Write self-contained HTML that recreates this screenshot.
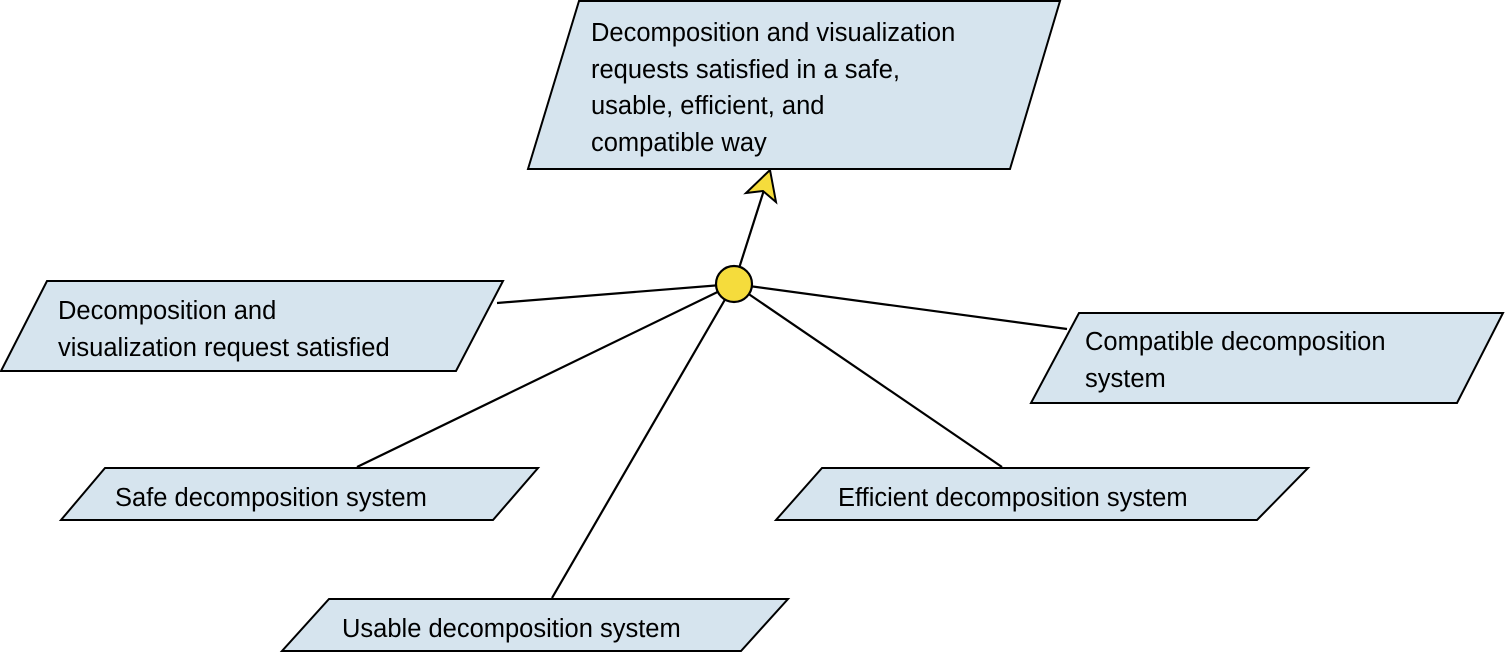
<!DOCTYPE html>
<html><head><style>body{margin:0;background:#fff}svg{display:block}text{font-family:"Liberation Sans",sans-serif;font-size:25.5px;fill:#000}</style></head><body>
<svg width="1505" height="652" viewBox="0 0 1505 652">
<g fill="#d6e4ee" stroke="#000" stroke-width="2">
<polygon points="579,1 1060,1 1010,169 528,169"/>
<polygon points="47,281 503,281 456,371 1,371"/>
<polygon points="1079,313 1503,313 1457,403 1031,403"/>
<polygon points="105,468 538,468 493,520 61,520"/>
<polygon points="822,468 1308,468 1257,520 776,520"/>
<polygon points="329,599 788,599 741,651 282,651"/>
</g>
<g stroke="#000" stroke-width="2.2">
<line x1="734" y1="284" x2="497" y2="303"/>
<line x1="734" y1="284" x2="357" y2="467"/>
<line x1="734" y1="284" x2="552" y2="598"/>
<line x1="734" y1="284" x2="1002" y2="467"/>
<line x1="734" y1="284" x2="1067" y2="329"/>
<line x1="734" y1="284" x2="764" y2="190"/>
</g>
<polygon points="770,170 776,202 763,191 746,193" fill="#f5dc3c" stroke="#000" stroke-width="2"/>
<circle cx="734" cy="284" r="18" fill="#f5dc3c" stroke="#000" stroke-width="2.2"/>
<text x="591" y="41">Decomposition and visualization</text>
<text x="591" y="78">requests satisfied in a safe,</text>
<text x="591" y="114">usable, efficient, and</text>
<text x="591" y="151">compatible way</text>
<text x="58" y="319">Decomposition and</text>
<text x="58" y="356">visualization request satisfied</text>
<text x="1085" y="350">Compatible decomposition</text>
<text x="1085" y="387">system</text>
<text x="115" y="506">Safe decomposition system</text>
<text x="838" y="506">Efficient decomposition system</text>
<text x="342" y="637">Usable decomposition system</text>
</svg>
</body></html>
